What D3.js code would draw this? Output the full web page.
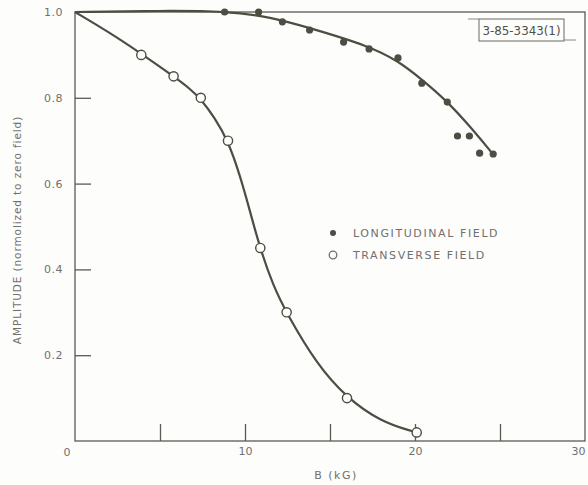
<!DOCTYPE html>
<html>
<head>
<title>Amplitude vs B</title>
<style>
body { margin:0; background:#fdfdfb; }
svg text { font-family:"DejaVu Sans", Arial, sans-serif; fill:#707070; }
.axis path { display:none; }
.axis line { stroke:#5a5c52; stroke-width:1.3px; }
</style>
</head>
<body>
<svg id="chart" width="588" height="485"></svg>
<script src="https://d3js.org/d3.v7.min.js"></script>
<script>

// measured points (B in kG, normalised amplitude)
let longB   = [8.8, 10.8, 12.2, 13.8, 15.8, 17.3, 19.0, 20.4, 21.9, 22.5, 23.2, 23.8, 24.6];
let longAmp = [1.0, 1.0, 0.977, 0.958, 0.930, 0.914, 0.893, 0.834, 0.790, 0.711, 0.711, 0.671, 0.669];

let transB   = [3.9, 5.8, 7.4, 9.0, 10.9, 12.45, 16.0, 20.1];
let transAmp = [0.90, 0.85, 0.80, 0.70, 0.45, 0.30, 0.10, 0.02];

// hand drawn fitted curves
let longCurveB   = [0, 5, 9, 11.5, 13.8, 17.35, 19.0, 20.4, 21.86, 23.2, 24.6];
let longCurveAmp = [1.0, 1.003, 1.002, 0.988, 0.963, 0.92, 0.886, 0.843, 0.793, 0.735, 0.668];

let transCurveB   = [0, 2, 3.9, 5.8, 6.8, 7.4, 8.2, 9.0, 9.7, 10.3, 10.84, 11.67, 12.45, 14.2, 16.0, 18.0, 19.9];
let transCurveAmp = [1.0, 0.953, 0.903, 0.85, 0.82, 0.797, 0.755, 0.70, 0.62, 0.535, 0.455, 0.36, 0.298, 0.18, 0.10, 0.045, 0.022];

let yTicks = [0.2, 0.4, 0.6, 0.8, 1.0];
let xTicks = [5, 10, 15, 20, 25, 30];
let legendLabels = ["LONGITUDINAL FIELD", "TRANSVERSE FIELD"];

let ink = "#4b4e42";

let x = d3.scaleLinear().domain([0, 30]).range([75, 585]),
    y = d3.scaleLinear().domain([0, 1]).range([441, 12]);

let svg = d3.select("#chart");

// frame
svg.append("rect")
    .attr("x", x(0)).attr("y", y(1))
    .attr("width", x(30) - x(0)).attr("height", y(0) - y(1))
    .attr("fill", "none").attr("stroke", "#5a5c52").attr("stroke-width", 1.3);

// y axis, ticks pointing inward
let gy = svg.append("g")
    .attr("class", "axis")
    .attr("transform", "translate(" + x(0) + ",0)")
    .call(d3.axisLeft(y).tickValues(yTicks).tickFormat(d3.format(".1f"))
      .tickSizeInner(-16).tickSizeOuter(0).tickPadding(12));
gy.selectAll(".tick line").filter(d => d == 1).remove();
gy.selectAll("text").attr("font-size", 11).attr("fill", "#707070").style("letter-spacing", "0.5px");

// x axis
let gx = svg.append("g")
    .attr("class", "axis")
    .attr("transform", "translate(0," + y(0) + ")")
    .call(d3.axisBottom(x).tickValues(xTicks).tickFormat(d => d % 10 ? "" : d)
      .tickSizeInner(-17).tickSizeOuter(0).tickPadding(6));
gx.selectAll(".tick line").filter(d => d == 30).remove();
gx.selectAll("text").attr("font-size", 11).attr("fill", "#707070");
gx.selectAll("text").filter(d => d == 30).attr("dx", -7);

svg.append("text")
    .attr("x", x(0) - 8).attr("y", y(0) + 15)
    .attr("text-anchor", "middle").attr("font-size", 11).text("0");

// axis titles
svg.append("text")
    .attr("x", 336).attr("y", 479)
    .attr("text-anchor", "middle").attr("font-size", 11)
    .style("letter-spacing", "1.5px")
    .text("B (kG)");

svg.append("text")
    .attr("transform", "translate(21,230) rotate(-90)")
    .attr("text-anchor", "middle").attr("font-size", 10.5)
    .style("letter-spacing", "0.9px")
    .text("AMPLITUDE  (normolized to zero field)");

// curves
let line = d3.line()
    .x(d => x(d[0]))
    .y(d => y(d[1]))
    .curve(d3.curveBasis);

svg.append("path")
    .datum(longCurveB.map((b, i) => [b, longCurveAmp[i]]))
    .attr("d", line)
    .attr("fill", "none").attr("stroke", ink).attr("stroke-width", 2.2);

svg.append("path")
    .datum(transCurveB.map((b, i) => [b, transCurveAmp[i]]))
    .attr("d", line)
    .attr("fill", "none").attr("stroke", ink).attr("stroke-width", 2.2);

// points
svg.selectAll(".long")
    .data(longB.map((b, i) => [b, longAmp[i]]))
  .enter().append("circle")
    .attr("class", "long")
    .attr("cx", d => x(d[0])).attr("cy", d => y(d[1]))
    .attr("r", 3.6).attr("fill", ink);

svg.selectAll(".trans")
    .data(transB.map((b, i) => [b, transAmp[i]]))
  .enter().append("circle")
    .attr("class", "trans")
    .attr("cx", d => x(d[0])).attr("cy", d => y(d[1]))
    .attr("r", 4.6).attr("fill", "#fdfdfb")
    .attr("stroke", ink).attr("stroke-width", 1.4);

// legend
let leg = svg.append("g").attr("transform", "translate(333,233)");
leg.append("circle").attr("r", 3).attr("fill", ink);
leg.append("circle").attr("cy", 22).attr("r", 3.8)
    .attr("fill", "none").attr("stroke", "#707070").attr("stroke-width", 1.3);
leg.selectAll(".lab")
    .data(legendLabels)
  .enter().append("text")
    .attr("class", "lab")
    .attr("x", 20).attr("y", (d, i) => i * 22 + 4)
    .attr("font-size", 11).style("letter-spacing", "1.6px")
    .text(d => d);

// figure number tag
let tag = svg.append("g");
tag.append("rect")
    .attr("x", 479).attr("y", 19).attr("width", 85).attr("height", 22)
    .attr("fill", "none").attr("stroke", "#6a6a62").attr("stroke-width", 1);
tag.append("line").attr("x1", 468).attr("x2", 479).attr("y1", 19).attr("y2", 19)
    .attr("stroke", "#8a8a82");
tag.append("line").attr("x1", 564).attr("x2", 576).attr("y1", 40).attr("y2", 40)
    .attr("stroke", "#8a8a82");
tag.append("text")
    .attr("x", 521.5).attr("y", 35)
    .attr("text-anchor", "middle").attr("font-size", 13)
    .attr("font-family", "Liberation Sans Narrow, DejaVu Sans Condensed, sans-serif")
    .attr("textLength", 78).attr("lengthAdjust", "spacingAndGlyphs")
    .style("fill", "#505048")
    .text("3-85-3343(1)");

</script>
</body>
</html>
